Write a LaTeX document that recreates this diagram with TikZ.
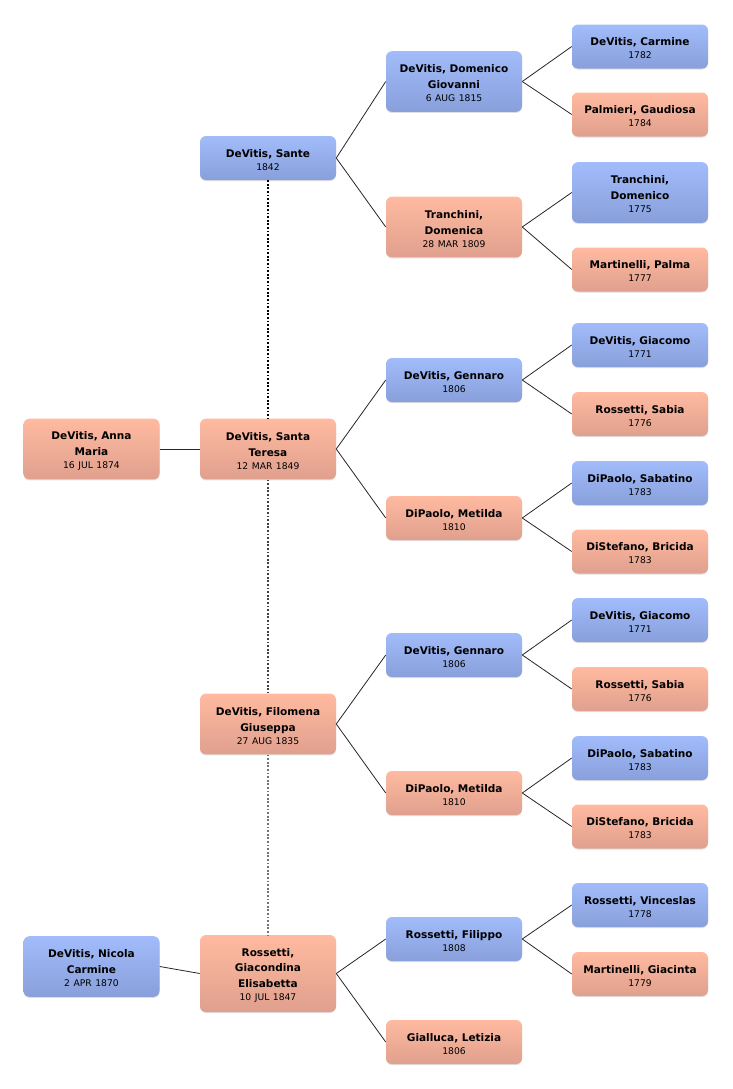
\documentclass[tikz,border=0pt]{standalone}
\usepackage{fontspec}
\setmainfont{DejaVu Sans}
\usepackage{tikz}
\usetikzlibrary{shadows}

\definecolor{maletop}{HTML}{A2BCFB}
\definecolor{malebot}{HTML}{889FDA}
\definecolor{femtop}{HTML}{FFBAA0}
\definecolor{fembot}{HTML}{E0A08E}

\newcommand{\yr}[1]{{\fontsize{6.9}{9}\mdseries\selectfont #1}}

\tikzset{
  person/.style={rounded corners=4.5pt, minimum width=102pt, minimum height=33pt,
    text width=96pt, align=center, inner sep=0pt,
    font=\fontsize{7.9}{11.8}\selectfont\bfseries,
    execute at begin node={\rule{0pt}{8.8pt}},
    drop shadow={shadow xshift=0pt, shadow yshift=-0.8pt, opacity=0.25}},
  male/.style={person, top color=maletop, bottom color=malebot},
  female/.style={person, top color=femtop, bottom color=fembot},
  tall/.style={minimum height=45.5pt},
  taller/.style={minimum height=57.75pt},
  link/.style={black!85, line width=0.6pt},
  same/.style={line width=1.5pt, dash pattern=on 1.3pt off 1.4pt}
}

\begin{document}
\begin{tikzpicture}[x=0.75pt, y=-0.75pt]
  \useasboundingbox (0,0) rectangle (732,1089);
  % children
  \node[female, tall] (annamaria) at (91.5,449) {DeVitis, Anna\\Maria\\[-2pt]\yr{16 JUL 1874}};
  \node[male, tall] (nicola) at (91.5,966.5) {DeVitis, Nicola\\Carmine\\[-2pt]\yr{2 APR 1870}};
  % parents
  \node[male] (sante) at (268,158) {DeVitis, Sante\\[-2pt]\yr{1842}};
  \node[female, tall] (santa) at (268,449) {DeVitis, Santa\\Teresa\\[-2pt]\yr{12 MAR 1849}};
  \node[female, tall] (filomena) at (268,724) {DeVitis, Filomena\\Giuseppa\\[-2pt]\yr{27 AUG 1835}};
  \node[female, taller] (giacondina) at (268,973.5) {Rossetti,\\Giacondina\\Elisabetta\\[-2pt]\yr{10 JUL 1847}};
  % grandparents
  \node[male, tall] (domenico) at (454,81.5) {DeVitis, Domenico\\Giovanni\\[-2pt]\yr{6 AUG 1815}};
  \node[female, tall] (domenica) at (454,227) {Tranchini,\\Domenica\\[-2pt]\yr{28 MAR 1809}};
  \node[male] (gennaroa) at (454,380) {DeVitis, Gennaro\\[-2pt]\yr{1806}};
  \node[female] (metildaa) at (454,518) {DiPaolo, Metilda\\[-2pt]\yr{1810}};
  \node[male] (gennarob) at (454,655) {DeVitis, Gennaro\\[-2pt]\yr{1806}};
  \node[female] (metildab) at (454,793) {DiPaolo, Metilda\\[-2pt]\yr{1810}};
  \node[male] (filippo) at (454,939) {Rossetti, Filippo\\[-2pt]\yr{1808}};
  \node[female] (letizia) at (454,1042) {Gialluca, Letizia\\[-2pt]\yr{1806}};
  % great-grandparents
  \node[male] (carmine) at (640,46.5) {DeVitis, Carmine\\[-2pt]\yr{1782}};
  \node[female] (gaudiosa) at (640,114.5) {Palmieri, Gaudiosa\\[-2pt]\yr{1784}};
  \node[male, tall] (domenicot) at (640,192.5) {Tranchini,\\Domenico\\[-2pt]\yr{1775}};
  \node[female] (palma) at (640,269.5) {Martinelli, Palma\\[-2pt]\yr{1777}};
  \node[male] (giacomoa) at (640,345) {DeVitis, Giacomo\\[-2pt]\yr{1771}};
  \node[female] (sabiaa) at (640,414) {Rossetti, Sabia\\[-2pt]\yr{1776}};
  \node[male] (sabatinoa) at (640,483) {DiPaolo, Sabatino\\[-2pt]\yr{1783}};
  \node[female] (bricidaa) at (640,551.5) {DiStefano, Bricida\\[-2pt]\yr{1783}};
  \node[male] (giacomob) at (640,620) {DeVitis, Giacomo\\[-2pt]\yr{1771}};
  \node[female] (sabiab) at (640,689) {Rossetti, Sabia\\[-2pt]\yr{1776}};
  \node[male] (sabatinob) at (640,758) {DiPaolo, Sabatino\\[-2pt]\yr{1783}};
  \node[female] (bricidab) at (640,826.5) {DiStefano, Bricida\\[-2pt]\yr{1783}};
  \node[male] (vinceslas) at (640,905) {Rossetti, Vinceslas\\[-2pt]\yr{1778}};
  \node[female] (giacinta) at (640,974) {Martinelli, Giacinta\\[-2pt]\yr{1779}};
  % marriages
  \draw[same, black] (sante.south) -- (santa.north);
  \draw[same, black!75] (santa.south) -- (filomena.north);
  \draw[same, black!55] (filomena.south) -- (giacondina.north);
  % child to mother
  \draw[link] (annamaria.east) -- (santa.west);
  \draw[link] (nicola.east) -- (giacondina.west);
  % parent lines
  \draw[link] (sante.east) -- (domenico.west);
  \draw[link] (sante.east) -- (domenica.west);
  \draw[link] (santa.east) -- (gennaroa.west);
  \draw[link] (santa.east) -- (metildaa.west);
  \draw[link] (filomena.east) -- (gennarob.west);
  \draw[link] (filomena.east) -- (metildab.west);
  \draw[link] (giacondina.east) -- (filippo.west);
  \draw[link] (giacondina.east) -- (letizia.west);
  \draw[link] (domenico.east) -- (carmine.west);
  \draw[link] (domenico.east) -- (gaudiosa.west);
  \draw[link] (domenica.east) -- (domenicot.west);
  \draw[link] (domenica.east) -- (palma.west);
  \draw[link] (gennaroa.east) -- (giacomoa.west);
  \draw[link] (gennaroa.east) -- (sabiaa.west);
  \draw[link] (metildaa.east) -- (sabatinoa.west);
  \draw[link] (metildaa.east) -- (bricidaa.west);
  \draw[link] (gennarob.east) -- (giacomob.west);
  \draw[link] (gennarob.east) -- (sabiab.west);
  \draw[link] (metildab.east) -- (sabatinob.west);
  \draw[link] (metildab.east) -- (bricidab.west);
  \draw[link] (filippo.east) -- (vinceslas.west);
  \draw[link] (filippo.east) -- (giacinta.west);
\end{tikzpicture}
\end{document}
